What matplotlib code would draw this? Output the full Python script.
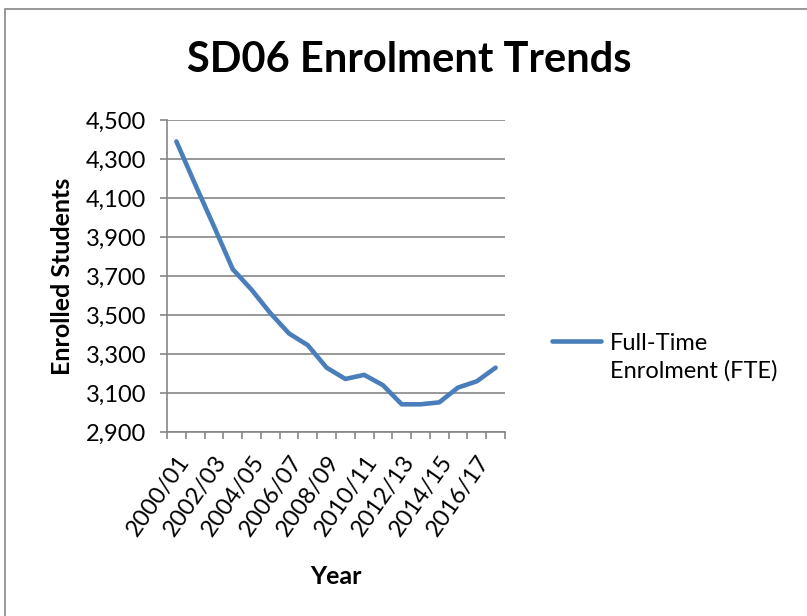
import matplotlib
matplotlib.use("Agg")
import matplotlib.pyplot as plt
from matplotlib.patches import Rectangle
from matplotlib.ticker import FuncFormatter

plt.rcParams['font.family'] = ['Lato', 'DejaVu Sans']

# data
years = ["2000/01", "2001/02", "2002/03", "2003/04", "2004/05", "2005/06",
         "2006/07", "2007/08", "2008/09", "2009/10", "2010/11", "2011/12",
         "2012/13", "2013/14", "2014/15", "2015/16", "2016/17", "2017/18"]
fte = [4390, 4170, 3955, 3735, 3630, 3510, 3405, 3345, 3230, 3172,
       3193, 3140, 3042, 3042, 3052, 3128, 3160, 3230]
y_ticks = [2900, 3100, 3300, 3500, 3700, 3900, 4100, 4300, 4500]

grey = "#868686"
blue = "#4A7EBB"

fig = plt.figure(figsize=(8.07, 6.16), dpi=100)
ax = fig.add_axes([167/807, 1 - 432/616, (505-167)/807, (432-120)/616])

# chart area border (Excel style), right and bottom edges fall outside the image
fig.patches.append(Rectangle((5/807, -0.1), 1.2, 1.1 - 9/616, transform=fig.transFigure,
                             fill=False, edgecolor=grey, linewidth=1.2))

x = list(range(len(years)))
ax.plot(x, fte, color=blue, linewidth=3.3, solid_capstyle='round',
        label="Full-Time\nEnrolment (FTE)")

ax.set_xlim(-0.5, len(years) - 0.5)
ax.set_ylim(y_ticks[0], y_ticks[-1])
ax.set_yticks(y_ticks)
ax.yaxis.set_major_formatter(FuncFormatter(lambda v, p: f"{int(v):,}"))
ax.grid(axis='y', color=grey, linewidth=1.2)
ax.set_axisbelow(True)

ax.set_xticks(x[::2])
ax.set_xticklabels(years[::2], rotation=55, ha='right', va='top',
                   rotation_mode='anchor')
ax.set_xticks([i - 0.5 for i in range(len(years) + 1)], minor=True)
ax.tick_params(axis='x', which='major', length=0, pad=14, labelsize=17)
ax.tick_params(axis='x', which='minor', length=5, color=grey, width=1.2)
ax.tick_params(axis='y', length=5, color=grey, width=1.2, labelsize=17, pad=10)

for s in ['top', 'right']:
    ax.spines[s].set_visible(False)
for s in ['left', 'bottom']:
    ax.spines[s].set_color(grey)
    ax.spines[s].set_linewidth(1.2)

ax.set_ylabel("Enrolled Students", fontsize=18, fontweight='bold', labelpad=8)
ax.set_xlabel("Year", fontsize=18, fontweight='bold', labelpad=18)
fig.text(409/807, 1 - 60/616, "SD06 Enrolment Trends", fontsize=30,
         fontweight='bold', ha='center', va='center')

leg = ax.legend(loc='center left', bbox_to_anchor=(540/807, 1 - 357/616),
                bbox_transform=fig.transFigure, frameon=False, fontsize=17,
                handlelength=2.1, handletextpad=0.38, borderpad=0)
leg.get_texts()[0].set_linespacing(1.35)
# Excel puts the key level with the first text line
hl = leg.get_lines()[0]
hl.set_ydata([v + 0.68 * 17 for v in hl.get_ydata()])
hl.set_solid_capstyle('round')

fig.savefig("out.png", dpi=100)
